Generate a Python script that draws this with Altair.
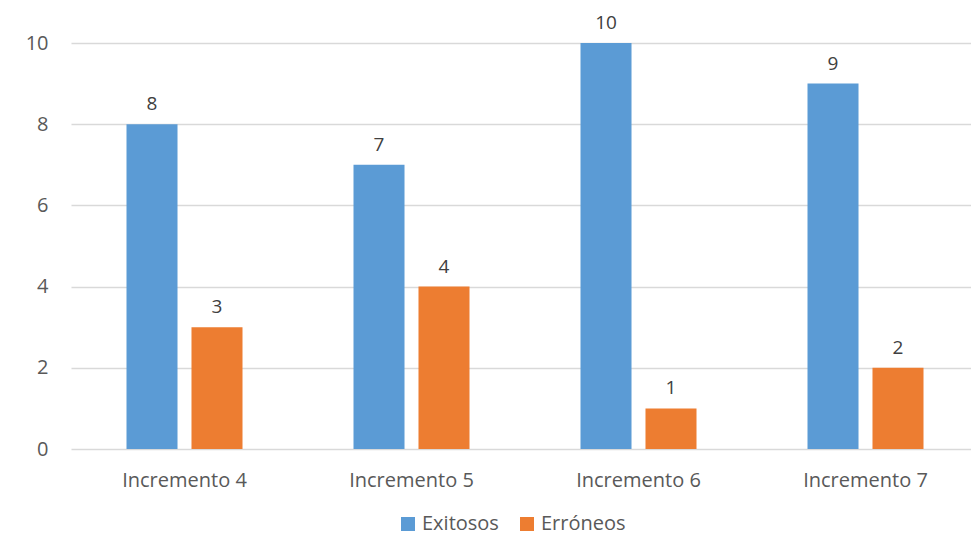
import altair as alt
import pandas as pd

categories = ["Incremento 4", "Incremento 5", "Incremento 6", "Incremento 7"]
series = ["Exitosos", "Erróneos"]
exitosos = [8, 7, 10, 9]
erroneos = [3, 4, 1, 2]
colors = ["#5B9BD5", "#ED7D31"]

rows = []
for c, e, r in zip(categories, exitosos, erroneos):
    rows.append({"cat": c, "serie": "Exitosos", "val": e})
    rows.append({"cat": c, "serie": "Erróneos", "val": r})
df = pd.DataFrame(rows)

FONT = "Open Sans"
FS = 20

x = alt.X("cat:N", sort=categories, title=None,
          scale=alt.Scale(paddingInner=0, paddingOuter=0, range=[0, 908]),
          axis=alt.Axis(labelAngle=0, labelFontSize=FS, labelColor="#595959",
                        labelFont=FONT, ticks=False, domain=False, labelPadding=21))
xoff = alt.XOffset("serie:N", sort=series,
                   scale=alt.Scale(paddingInner=0.215, paddingOuter=0.854))
y = alt.Y("val:Q", title=None,
          scale=alt.Scale(domain=[0, 10]),
          axis=alt.Axis(values=[0, 2, 4, 6, 8, 10], labelFontSize=FS, labelColor="#595959",
                        labelFont=FONT, ticks=False, domain=False, gridColor="#d9d9d9",
                        gridWidth=1.3, labelPadding=23))

bars = alt.Chart(df).mark_bar().encode(
    x=x, xOffset=xoff, y=y,
    color=alt.Color("serie:N", sort=series,
                    scale=alt.Scale(domain=series, range=colors),
                    legend=alt.Legend(title=None, orient="none", direction="horizontal",
                                      legendX=327, legendY=471, symbolType="square",
                                      symbolSize=196, symbolStrokeWidth=0,
                                      labelFontSize=FS, labelColor="#595959", labelFont=FONT,
                                      columnPadding=18, labelOffset=4)),
)

labels = alt.Chart(df).mark_text(fontSize=19, color="#404040", font=FONT,
                                 baseline="alphabetic", dy=-14).encode(
    x=alt.X("cat:N", sort=categories), xOffset=alt.XOffset("serie:N", sort=series),
    y="val:Q", text="val:Q")

chart = (bars + labels).properties(
    width=900, height=406,
    autosize=alt.AutoSizeParams(type="none"),
    padding={"left": 63, "top": 35, "right": 0, "bottom": 87},
).configure_view(stroke=None).configure_axis(labelFont=FONT)

chart.save("out.html", embed_options={"renderer": "svg", "actions": False})
